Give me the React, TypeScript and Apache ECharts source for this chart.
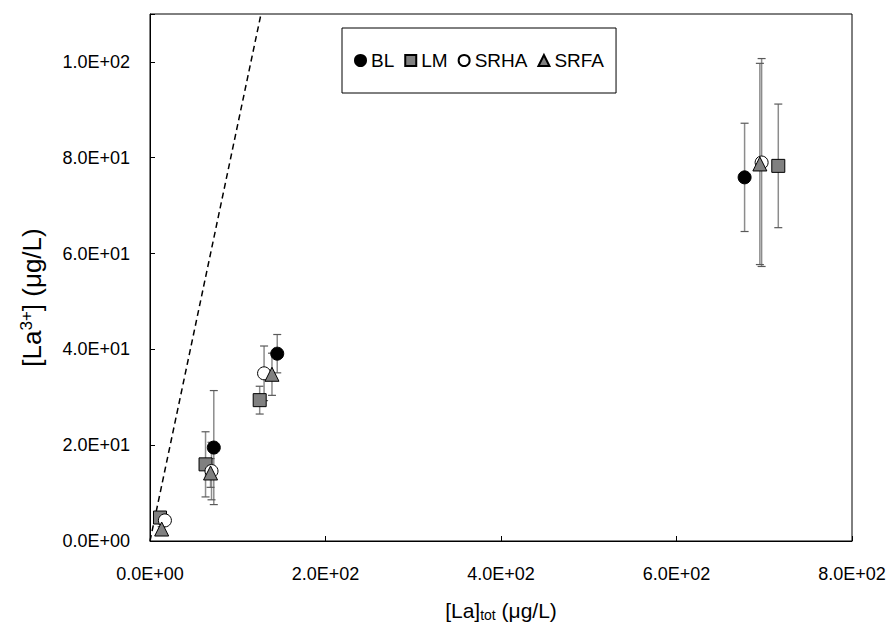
import React, { useEffect, useRef } from "react";
import * as echarts from "echarts";

const seriesNames = ["BL", "LM", "SRHA", "SRFA"];

const blX = [15, 72.7, 145, 677.6];
const blY = [4.5, 19.5, 39.1, 75.9];
const blErr = [1, 11.9, 4, 11.3];

const lmX = [11.4, 63.3, 125, 716];
const lmY = [4.9, 16.0, 29.4, 78.3];
const lmErr = [0.8, 6.8, 2.9, 12.9];

const srhaX = [17, 70.1, 130, 697];
const srhaY = [4.3, 14.6, 35.0, 79.0];
const srhaErr = [0.5, 6, 5.7, 21.7];

const srfaX = [13.3, 69, 139, 695];
const srfaY = [2.5, 14.2, 34.8, 78.7];
const srfaErr = [0.5, 3, 4.4, 21];

const refLineX = [0, 126.5];
const refLineY = [0, 110];

const xTicks = [0, 200, 400, 600, 800];
const yTicks = [0, 20, 40, 60, 80, 100];

const fmt = (v: number) => {
  if (v === 0) return "0.0E+00";
  const e = Math.floor(Math.log10(Math.abs(v)));
  const m = v / Math.pow(10, e);
  return m.toFixed(1) + "E+" + String(e).padStart(2, "0");
};

const FONT = "'Liberation Sans', Arial, sans-serif";

export default function App() {
  const ref = useRef<HTMLDivElement>(null);
  useEffect(() => {
    if (!ref.current) return;
    const chart = echarts.init(ref.current, undefined, { renderer: "svg" });

    const groups = [
      { name: "BL", x: blX, y: blY, err: blErr, symbol: "circle", size: 13, color: "#000000" },
      { name: "LM", x: lmX, y: lmY, err: lmErr, symbol: "rect", size: 13, color: "#808080" },
      { name: "SRHA", x: srhaX, y: srhaY, err: srhaErr, symbol: "circle", size: 13, color: "#ffffff" },
      { name: "SRFA", x: srfaX, y: srfaY, err: srfaErr, symbol: "triangle", size: 14, color: "#808080" },
    ];

    const errSeries = groups.map((g) => ({
      type: "custom",
      name: g.name + " error",
      z: 1,
      data: g.x.map((xv, i) => [xv, g.y[i], g.err[i]]),
      renderItem: (params: any, api: any) => {
        const x = api.value(0);
        const y = api.value(1);
        const e = api.value(2);
        const top = api.coord([x, y + e]);
        const bot = api.coord([x, y - e]);
        const cw = 4;
        const st = { stroke: "#8c8c8c", lineWidth: 1.5 };
        const cs = { stroke: "#595959", lineWidth: 1.2 };
        return {
          type: "group",
          children: [
            { type: "line", shape: { x1: top[0], y1: top[1], x2: bot[0], y2: bot[1] }, style: st },
            { type: "line", shape: { x1: top[0] - cw, y1: top[1], x2: top[0] + cw, y2: top[1] }, style: cs },
            { type: "line", shape: { x1: bot[0] - cw, y1: bot[1], x2: bot[0] + cw, y2: bot[1] }, style: cs },
          ],
        };
      },
    }));

    const scatterSeries = groups.map((g, k) => ({
      type: "scatter",
      name: g.name,
      z: 3 + k,
      symbol: g.symbol,
      symbolSize: g.size,
      itemStyle: { color: g.color, borderColor: "#000000", borderWidth: 1, opacity: 1 },
      data: g.x.map((xv, i) => [xv, g.y[i]]),
    }));

    chart.setOption({
      animation: false,
      backgroundColor: "#ffffff",
      textStyle: { fontFamily: FONT },
      grid: {
        left: 150,
        top: 14,
        right: 44,
        bottom: 80,
        show: true,
        borderColor: "#000000",
        borderWidth: 1,
      },
      legend: {
        data: seriesNames,
        left: 342,
        top: 28,
        orient: "horizontal",
        padding: [23, 12, 23, 12],
        itemGap: 10,
        itemWidth: 11,
        itemHeight: 11,
        borderColor: "#000000",
        borderWidth: 1,
        backgroundColor: "#ffffff",
        textStyle: { fontSize: 19, color: "#000000", fontFamily: FONT },
      },
      xAxis: {
        type: "value",
        min: xTicks[0],
        max: xTicks[xTicks.length - 1],
        interval: 200,
        name: "{a|[La]}{sub|tot}{a| (μg/L)}",
        nameLocation: "middle",
        nameGap: 58,
        nameTextStyle: {
          rich: {
            a: { fontSize: 21, color: "#000", fontFamily: FONT },
            sub: { fontSize: 14, color: "#000", fontFamily: FONT, verticalAlign: "bottom", padding: [9, 0, 0, 0] },
          },
        },
        axisLine: { show: true, lineStyle: { color: "#000", width: 1 } },
        axisTick: { show: true, inside: true, length: 5, lineStyle: { color: "#000" } },
        axisLabel: { formatter: fmt, fontSize: 18, color: "#000", margin: 24, fontFamily: FONT },
        splitLine: { show: false },
      },
      yAxis: {
        type: "value",
        min: 0,
        max: 110,
        interval: 20,
        name: "{a|[La}{sup|3+}{a|] (μg/L)}",
        nameLocation: "middle",
        nameRotate: 90,
        nameGap: 105,
        nameTextStyle: {
          padding: [0, 40, 0, 0],
          rich: {
            a: { fontSize: 26, color: "#000", fontFamily: FONT },
            sup: { fontSize: 17, color: "#000", fontFamily: FONT, verticalAlign: "top", padding: [0, 0, 10, 0] },
          },
        },
        axisLine: { show: true, lineStyle: { color: "#000", width: 1 } },
        axisTick: { show: true, inside: true, length: 5, lineStyle: { color: "#000" } },
        axisLabel: {
          formatter: (v: number) => (yTicks.includes(v) ? fmt(v) : ""),
          fontSize: 18,
          color: "#000",
          margin: 20,
          fontFamily: FONT,
        },
        splitLine: { show: false },
      },
      series: [
        {
          type: "line",
          name: "1:1",
          z: 2,
          symbol: "none",
          data: refLineX.map((xv, i) => [xv, refLineY[i]]),
          lineStyle: { color: "#000", width: 1.5, type: [6, 4] },
          clip: true,
        },
        ...errSeries,
        ...scatterSeries,
      ],
    });
    return () => chart.dispose();
  }, []);
  return (
    <div
      ref={ref}
      style={{ position: "fixed", left: 0, top: 0, width: 896, height: 627 }}
    />
  );
}
